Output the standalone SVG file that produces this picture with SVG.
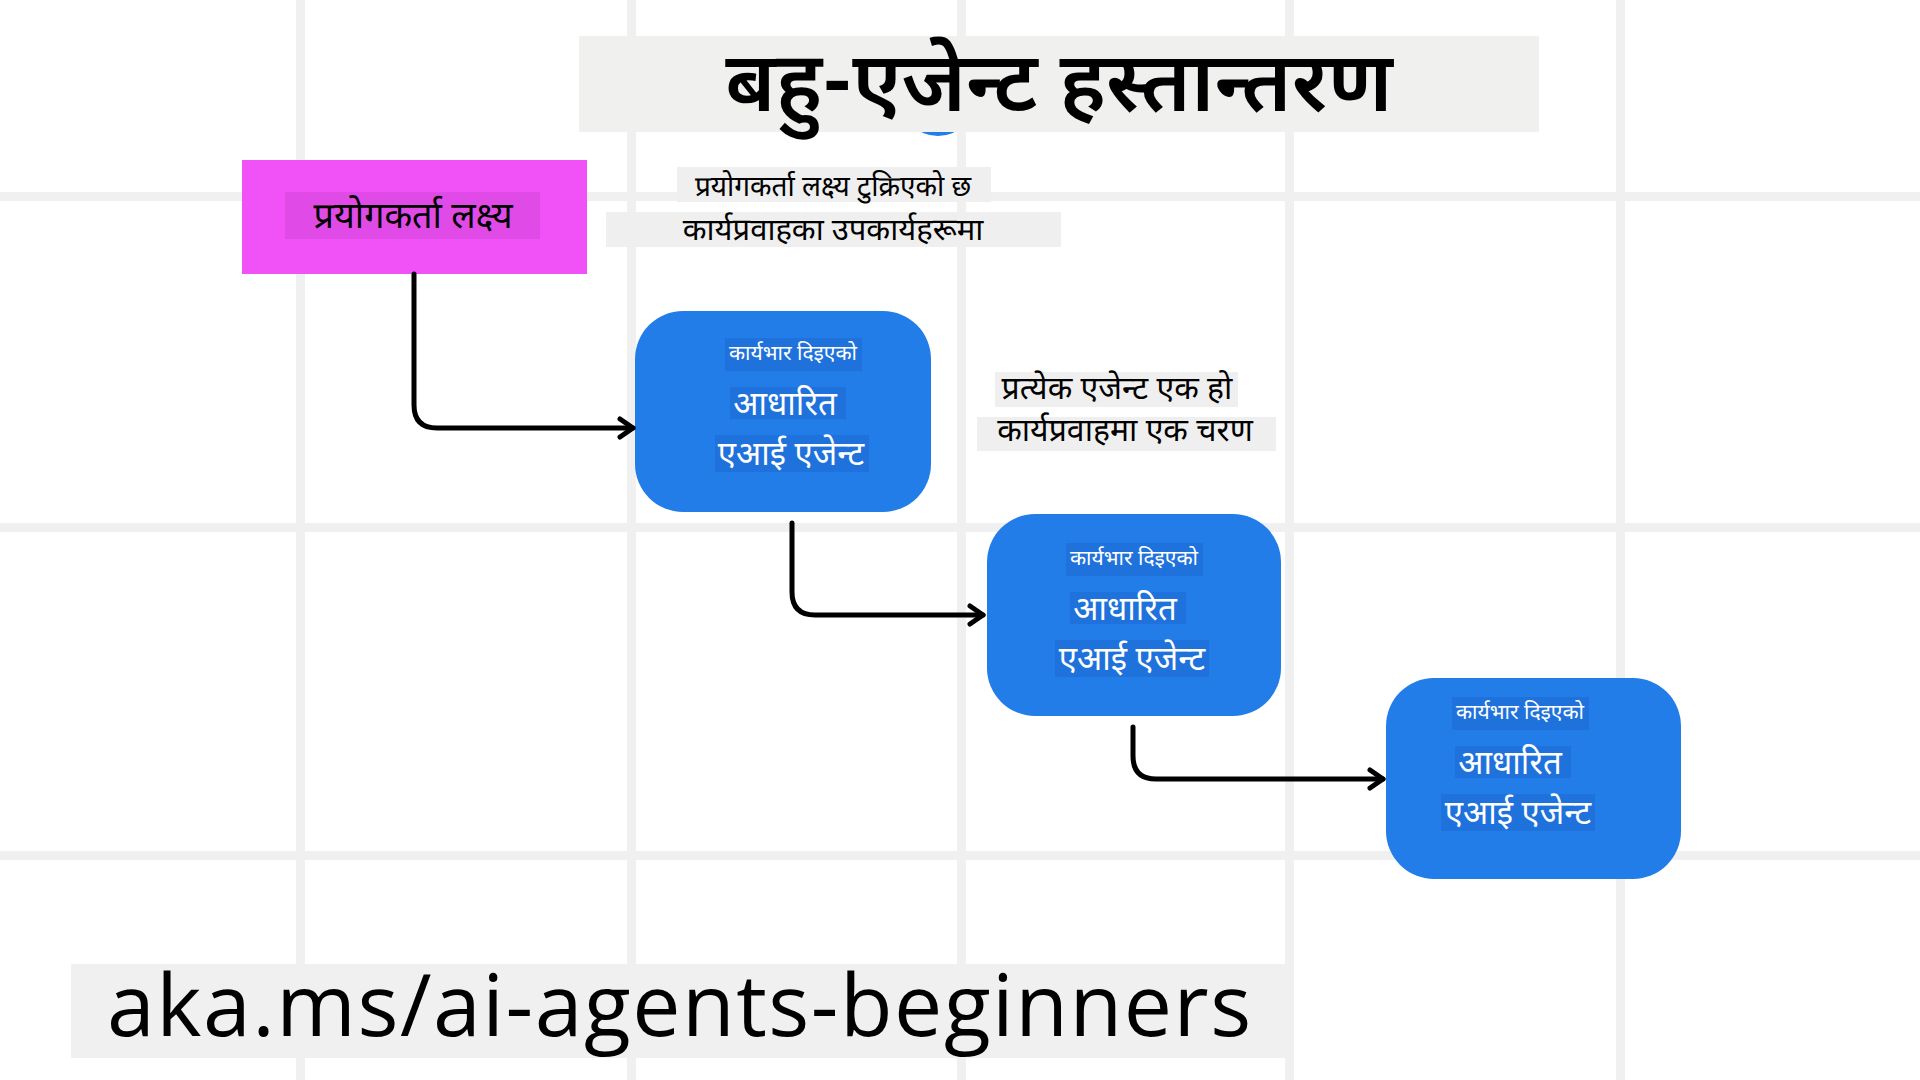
<svg xmlns="http://www.w3.org/2000/svg" width="1920" height="1080" viewBox="0 0 1920 1080">
<style>
.grid{fill:#F0F0F0}
.dev{font-family:"Noto Sans Devanagari","Noto Sans","Open Sans",sans-serif}
.dark{fill:#000000}
.node{fill:#237DE8}
.hl{fill:#1F72DC}
.nt{fill:#FFFFFF;text-anchor:middle}
.small{font-size:21px}
.big{font-size:33px}
.conn{fill:none;stroke:#000000;stroke-width:5;stroke-linecap:round;stroke-linejoin:round}
.gray{fill:#F0F0EF}
</style>
<defs>
<marker id="arrow" markerUnits="userSpaceOnUse" markerWidth="30" markerHeight="30" viewBox="-20 -15 30 30" refX="0" refY="0" orient="auto">
<path d="M -13 -9 L 0 0 L -13 9" fill="none" stroke="#000" stroke-width="5" stroke-linecap="round" stroke-linejoin="round"/>
</marker>
</defs>
<rect width="1920" height="1080" fill="#FFFFFF"/>
<g id="grid">
<rect class="grid" x="296" y="0" width="9" height="1080"/>
<rect class="grid" x="627" y="0" width="9" height="1080"/>
<rect class="grid" x="957" y="0" width="9" height="1080"/>
<rect class="grid" x="1285" y="0" width="9" height="1080"/>
<rect class="grid" x="1616" y="0" width="9" height="1080"/>
<rect class="grid" x="0" y="192" width="1920" height="9"/>
<rect class="grid" x="0" y="523" width="1920" height="9"/>
<rect class="grid" x="0" y="851" width="1920" height="9"/>
</g>
<g id="title">
<circle cx="938" cy="99" r="37" fill="#237DE8"/>
<rect class="gray" x="579" y="36" width="960" height="96"/>
<text class="dev dark" x="1059" y="111" font-size="84" font-weight="600" text-anchor="middle">बहु-एजेन्ट हस्तान्तरण</text>
</g>
<g id="user-goal">
<rect x="242" y="160" width="345" height="114" fill="#F152F7"/>
<rect x="285" y="192" width="255" height="47" fill="#E04BE8"/>
<text class="dev dark" x="413" y="228" font-size="36" text-anchor="middle">प्रयोगकर्ता लक्ष्य</text>
</g>
<g id="note-breakdown">
<rect x="677" y="167" width="314" height="35" fill="#EFEFEF"/>
<rect x="606" y="212" width="455" height="35" fill="#EFEFEF"/>
<text class="dev dark" x="833" y="196" font-size="28" text-anchor="middle">प्रयोगकर्ता लक्ष्य टुक्रिएको छ</text>
<text class="dev dark" x="833" y="240" font-size="31" text-anchor="middle">कार्यप्रवाहका उपकार्यहरूमा</text>
</g>
<g id="note-step">
<rect x="995" y="372" width="243" height="35" fill="#EFEFEF"/>
<rect x="977" y="417" width="299" height="34" fill="#EFEFEF"/>
<text class="dev dark" x="1117" y="399" font-size="32" text-anchor="middle">प्रत्येक एजेन्ट एक हो</text>
<text class="dev dark" x="1125" y="441" font-size="32" text-anchor="middle">कार्यप्रवाहमा एक चरण</text>
</g>
<g id="agent-1">
<rect class="node" x="635" y="311" width="296" height="201" rx="48" ry="48"/>
<rect class="hl" x="725" y="338" width="137" height="33"/>
<rect class="hl" x="730" y="387" width="116" height="32"/>
<rect class="hl" x="715" y="435" width="154" height="37"/>
<text class="dev nt small" x="793" y="360">कार्यभार दिइएको</text>
<text class="dev nt big" x="785" y="415">आधारित</text>
<text class="dev nt big" x="791" y="465">एआई एजेन्ट</text>
</g>
<g id="agent-2">
<rect class="node" x="987" y="514" width="294" height="202" rx="48" ry="48"/>
<rect class="hl" x="1066" y="543" width="137" height="33"/>
<rect class="hl" x="1070" y="592" width="116" height="32"/>
<rect class="hl" x="1055" y="640" width="154" height="37"/>
<text class="dev nt small" x="1134" y="565">कार्यभार दिइएको</text>
<text class="dev nt big" x="1125" y="620">आधारित</text>
<text class="dev nt big" x="1132" y="670">एआई एजेन्ट</text>
</g>
<g id="agent-3">
<rect class="node" x="1386" y="678" width="295" height="201" rx="48" ry="48"/>
<rect class="hl" x="1452" y="697" width="137" height="33"/>
<rect class="hl" x="1455" y="746" width="116" height="32"/>
<rect class="hl" x="1441" y="794" width="154" height="37"/>
<text class="dev nt small" x="1520" y="719">कार्यभार दिइएको</text>
<text class="dev nt big" x="1510" y="774">आधारित</text>
<text class="dev nt big" x="1518" y="824">एआई एजेन्ट</text>
</g>
<g id="connectors">
<path class="conn" d="M 414 274 L 414 405 Q 414 428 437 428 L 633 428" marker-end="url(#arrow)"/>
<path class="conn" d="M 792 523 L 792 592 Q 792 615 815 615 L 983 615" marker-end="url(#arrow)"/>
<path class="conn" d="M 1133 727 L 1133 756 Q 1133 779 1156 779 L 1383 779" marker-end="url(#arrow)"/>
</g>
<g id="footer">
<rect x="71" y="964" width="1215" height="94" fill="#F0F0F0"/>
<text x="107" y="1036" font-family="'Open Sans','Noto Sans',sans-serif" font-size="86" letter-spacing="1.5" fill="#000">aka.ms/ai-agents-beginners</text>
</g>
</svg>
